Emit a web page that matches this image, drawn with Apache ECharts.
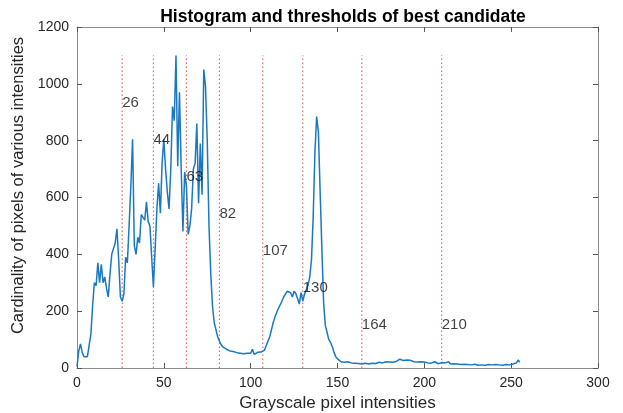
<!DOCTYPE html>
<html>
<head>
<meta charset="utf-8">
<script src="https://cdn.jsdelivr.net/npm/echarts@6/dist/echarts.min.js"></script>
<style>
  html, body { margin: 0; padding: 0; background: #fff; }
  #main { width: 623px; height: 413px; }
</style>
</head>
<body>
<div id="main"></div>
<script>
// histogram counts for intensities 0..255
var counts = [
  5, 60, 85, 55, 40, 38, 40, 45, 120, 220,
  300, 290, 370, 300, 365, 300, 320, 280, 250, 330,
  400, 420, 440, 490, 380, 250, 235, 260, 390, 370,
  500, 640, 805, 430, 400, 460, 440, 540, 530, 520,
  585, 515, 500, 390, 285, 420, 560, 650, 545, 720,
  805, 700, 620, 560, 700, 920, 870, 1100, 710, 970,
  700, 480, 690, 640, 470, 500, 560, 700, 720, 860,
  580, 790, 610, 1050, 990, 800, 500, 335, 220, 160,
  135, 110, 95, 82, 74, 70, 66, 62, 60, 56,
  58, 60, 54, 56, 52, 55, 50, 48, 52, 46,
  52, 66, 48, 50, 55, 53, 56, 52, 63, 80,
  95, 110, 135, 160, 180, 195, 210, 215, 235, 250,
  260, 270, 275, 265, 250, 270, 262, 245, 225, 265,
  235, 260, 275, 290, 320, 380, 530, 760, 885, 830,
  620, 420, 230, 150, 125, 100, 90, 75, 55, 40,
  32, 26, 22, 21, 20, 19, 22, 19, 18, 20,
  17, 18, 16, 15, 14, 16, 17, 15, 14, 16,
  17, 18, 16, 18, 20, 17, 18, 20, 22, 19,
  21, 23, 20, 22, 24, 26, 31, 28, 26, 30,
  28, 24, 27, 25, 22, 24, 21, 20, 22, 19,
  21, 20, 18, 21, 17, 19, 22, 18, 15, 17,
  19, 15, 18, 16, 22, 14, 13, 15, 12, 14,
  13, 12, 14, 13, 11, 12, 13, 11, 12, 13,
  11, 10, 12, 11, 13, 10, 11, 12, 10, 11,
  13, 12, 10, 11, 12, 10, 11, 12, 13, 11,
  12, 14, 16, 18, 28, 20
];
var thresholds = [26, 44, 63, 82, 107, 130, 164, 210];
var labelHeights = [933, 803, 672, 542, 412, 282, 151, 151];
var lineTop = 1100;

var histData = counts.map(function (v, i) { return [i, v]; });

var series = [];
// dotted threshold lines
thresholds.forEach(function (t) {
  series.push({
    type: "line",
    data: [[t, 0], [t, lineTop]],
    symbol: "none",
    silent: true,
    lineStyle: { color: "#e0524a", width: 1, type: [1.5, 2.5] },
    z: 1
  });
});
series.push({
  name: "hist",
  type: "line",
  data: histData,
  symbol: "none",
  lineStyle: { color: "#1a78c2", width: 1.5 },
  z: 3
});
// threshold value labels
series.push({
  type: "scatter",
  data: thresholds.map(function (t, i) { return [t, labelHeights[i]]; }),
  symbolSize: 0,
  label: {
    show: true,
    position: "right",
    distance: 0,
    color: "#111",
    fontSize: 15,
    fontFamily: "Liberation Sans",
    formatter: function (p) { return String(p.value[0]); }
  },
  z: 4
});

var axisFont = {
  color: "#262626", fontSize: 14, fontFamily: "Liberation Sans",
  formatter: function (v) { return String(v); }
};
var boxLine = { show: true, onZero: false, lineStyle: { color: "#8c8c8c" } };
var ticks = { show: true, inside: true, length: 5, lineStyle: { color: "#555" } };
var chart = echarts.init(document.getElementById("main"));
chart.setOption({
  animation: false,
  title: {
    text: "Histogram and thresholds of best candidate",
    left: 338,
    textAlign: "center",
    top: 3,
    textStyle: { fontSize: 17.5, fontWeight: "bold", color: "#000", fontFamily: "Liberation Sans" }
  },
  grid: { left: 77, right: 25, top: 27, bottom: 45, containLabel: false, outerBoundsMode: "none" },
  xAxis: [{
    type: "value", min: 0, max: 300, interval: 50,
    name: "Grayscale pixel intensities", nameLocation: "middle", nameGap: 26,
    nameTextStyle: { color: "#262626", fontSize: 17, fontFamily: "Liberation Sans" },
    axisLine: boxLine,
    axisTick: ticks,
    axisLabel: axisFont,
    splitLine: { show: false }
  }, {
    type: "value", min: 0, max: 300, interval: 50, position: "top",
    axisLine: boxLine,
    axisTick: ticks,
    axisLabel: { show: false },
    splitLine: { show: false }
  }],
  yAxis: [{
    type: "value", min: 0, max: 1200, interval: 200,
    name: "Cardinality of pixels of various intensities", nameLocation: "middle", nameGap: 47,
    nameTextStyle: { color: "#262626", fontSize: 16.5, fontFamily: "Liberation Sans", padding: [0, 0, 0, 24] },
    axisLine: boxLine,
    axisTick: ticks,
    axisLabel: axisFont,
    splitLine: { show: false }
  }, {
    type: "value", min: 0, max: 1200, interval: 200, position: "right",
    axisLine: boxLine,
    axisTick: ticks,
    axisLabel: { show: false },
    splitLine: { show: false }
  }],
  series: series
});
</script>
</body>
</html>
